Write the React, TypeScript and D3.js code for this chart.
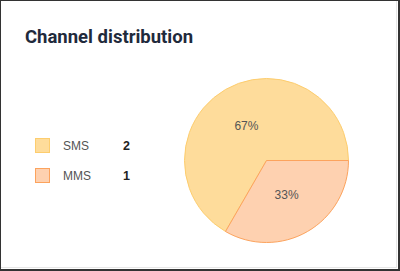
import React from "react";
import * as d3 from "d3";

const categories = ["SMS", "MMS"];
const values = [2, 1];
const fills = ["#fedc9b", "#fed1b0"];
const strokes = ["#fdcd6e", "#fca35d"];

const W = 400;
const H = 271;

export default function App() {
  const total = d3.sum(values);
  const pie = d3
    .pie<number>()
    .sort(null)
    .value((d) => d)
    .startAngle((-150 * Math.PI) / 180)
    .endAngle((210 * Math.PI) / 180);
  const arcs = pie(values);
  const r = 82;
  const cx = 266.5;
  const cy = 160.5;
  const arc = d3.arc<d3.PieArcDatum<number>>().innerRadius(0).outerRadius(r);
  const labelArc = d3.arc<d3.PieArcDatum<number>>().innerRadius(r * 0.49).outerRadius(r * 0.49);
  const legendY = d3.scalePoint<string>().domain(categories).range([145.5, 175.5]);
  const fmt = d3.format(".0%");
  const sans = "'Liberation Sans', Arial, sans-serif";

  return (
    <div style={{ position: "fixed", left: 0, top: 0, width: W, height: H }}>
      <svg width={W} height={H} style={{ display: "block", fontFamily: sans }}>
        <rect x={0} y={0} width={W} height={H} fill="#ffffff" />
        <rect x={0.5} y={0.5} width={396} height={267} fill="none" stroke="#e6e6e6" />
        <rect x={0.5} y={0.5} width={W - 1} height={H - 1} fill="none" stroke="#333" />
        <line x1={398.5} y1={0} x2={398.5} y2={H} stroke="#333" />
        <line x1={0} y1={269.5} x2={W} y2={269.5} stroke="#333" />
        <text x={25} y={43} fontSize={18.5} fontWeight={700} fill="#1f2a3c" fontFamily="Roboto, sans-serif">
          Channel distribution
        </text>
        {categories.map((c, i) => (
          <g key={c}>
            <rect
              x={35.5}
              y={legendY(c)! - 7}
              width={14}
              height={14}
              fill={fills[i]}
              stroke={strokes[i]}
            />
            <text x={63} y={legendY(c)! + 4.5} fontSize={12} fill="#555">
              {c}
            </text>
            <text x={130} y={legendY(c)! + 4.5} fontSize={12.5} fontWeight={700} fill="#222" textAnchor="end">
              {values[i]}
            </text>
          </g>
        ))}
        <g transform={`translate(${cx},${cy})`}>
          {arcs.map((a, i) => (
            <path key={i} d={arc(a)!} fill={fills[i]} stroke={strokes[i]} strokeWidth={1} />
          ))}
          {arcs.map((a, i) => {
            const [x, y] = labelArc.centroid(a);
            return (
              <text key={"l" + i} x={x} y={y + 4} fontSize={12} fill="#555" textAnchor="middle">
                {fmt(values[i] / total)}
              </text>
            );
          })}
        </g>
      </svg>
    </div>
  );
}
